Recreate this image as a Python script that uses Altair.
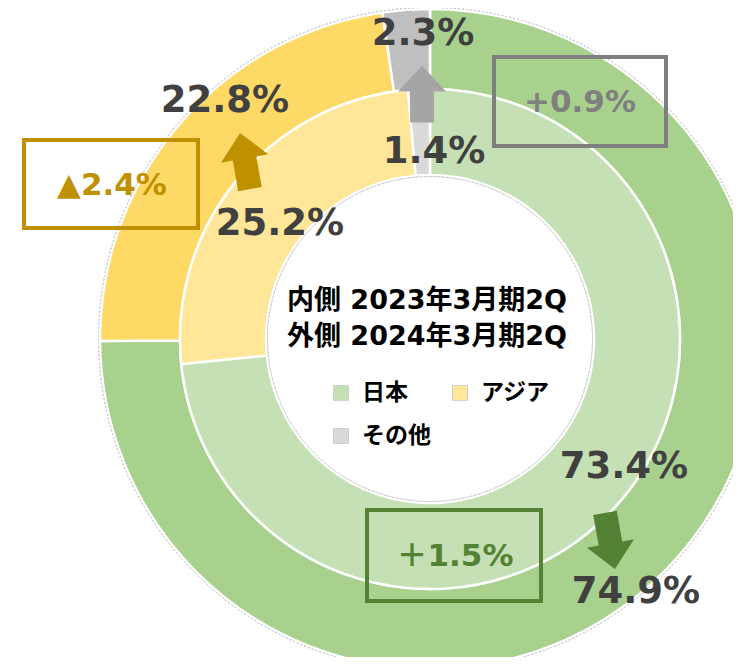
import math
import altair as alt
import pandas as pd

# ---------------- data ----------------
categories = ["日本", "アジア", "その他"]
inner_values = [73.4, 25.2, 1.4]   # 内側 2023年3月期2Q
outer_values = [74.9, 22.8, 2.3]   # 外側 2024年3月期2Q
change_labels = ["＋1.5%", "▲2.4%", "+0.9%"]
center_lines = ["内側 2023年3月期2Q", "外側 2024年3月期2Q"]

# ---------------- styles ----------------
outer_colors = ["#a9d18e", "#ffd966", "#bfbfbf"]
inner_colors = ["#c5e0b4", "#ffe699", "#d9d9d9"]
box_colors = ["#548235", "#bf9000", "#7f7f7f"]
arrow_colors = ["#548235", "#bf9000", "#a5a5a5"]
LABEL_COLOR = "#404040"
NUM_FONT = "DejaVu Sans"
JP_FONT = "DejaVu Sans, Noto Sans CJK JP"

# ---------------- layout (page pixel coordinates) ----------------
CX, CY = 430, 339
outer_label_pos = [(636, 592), (225, 101), (423, 34)]
inner_label_pos = [(624, 467), (280, 224), (434, 152)]
box_pos = [(367, 510, 541, 601), (24, 140, 198, 228), (494, 57, 666, 146)]
change_text_pos = [(455, 557), (112, 186), (580, 103)]
arrow_pos = [(610, 541, 170), (245, 161, 350), (422, 94, 0)]
legend_pos = [(341, 393), (460, 393), (341, 436)]
center_text_pos = [(427, 301), (427, 337)]

W, H = 725, 649
XS = alt.Scale(domain=[8, 8 + W], nice=False, zero=False)
YS = alt.Scale(domain=[8, 8 + H], nice=False, zero=False, reverse=True)


def xpos(field):
    return alt.X(field, type="quantitative", scale=XS, axis=None)


def ypos(field):
    return alt.Y(field, type="quantitative", scale=YS, axis=None)


center_x = alt.X(datum=CX, type="quantitative", scale=XS, axis=None)
center_y = alt.Y(datum=CY, type="quantitative", scale=YS, axis=None)

# ---------------- rings ----------------
outer_df = pd.DataFrame({"category": categories, "value": outer_values,
                         "order": list(range(3)), "fill": outer_colors})
inner_df = pd.DataFrame({"category": categories, "value": inner_values,
                         "order": list(range(3)), "fill": inner_colors})

theta = alt.Theta("value:Q", stack=True, scale=alt.Scale(domain=[0, 100]))

outer_ring = alt.Chart(outer_df).mark_arc(
    outerRadius=330, innerRadius=250, stroke="white", strokeWidth=2.5
).encode(theta=theta, order=alt.Order("order:Q"),
         color=alt.Color("fill:N", scale=None), x=center_x, y=center_y)

inner_ring = alt.Chart(inner_df).mark_arc(
    outerRadius=250, innerRadius=164, stroke="white", strokeWidth=2.5
).encode(theta=theta, order=alt.Order("order:Q"),
         color=alt.Color("fill:N", scale=None), x=center_x, y=center_y)

one = pd.DataFrame({"k": [0]})
edge_outer = alt.Chart(one).mark_arc(
    outerRadius=331.5, innerRadius=331.5, theta=0, theta2=2 * math.pi,
    fillOpacity=0, stroke="#c8c8c8", strokeWidth=1, strokeDash=[2, 2]
).encode(x=center_x, y=center_y)
edge_inner = alt.Chart(one).mark_arc(
    outerRadius=162.5, innerRadius=162.5, theta=0, theta2=2 * math.pi,
    fillOpacity=0, stroke="#c8c8c8", strokeWidth=1, strokeDash=[2, 2]
).encode(x=center_x, y=center_y)

# ---------------- value labels ----------------
label_df = pd.DataFrame({
    "label": [f"{v}%" for v in outer_values] + [f"{v}%" for v in inner_values],
    "px": [p[0] for p in outer_label_pos] + [p[0] for p in inner_label_pos],
    "py": [p[1] for p in outer_label_pos] + [p[1] for p in inner_label_pos],
})
value_labels = alt.Chart(label_df).mark_text(
    font=NUM_FONT, fontWeight="bold", fontSize=37, color=LABEL_COLOR,
    align="center", baseline="middle"
).encode(x=xpos("px"), y=ypos("py"), text="label:N")

# ---------------- change boxes ----------------
box_df = pd.DataFrame({
    "x1": [b[0] for b in box_pos], "y1": [b[1] for b in box_pos],
    "x2": [b[2] for b in box_pos], "y2": [b[3] for b in box_pos],
    "color": box_colors,
    "label": change_labels,
    "tx": [p[0] for p in change_text_pos], "ty": [p[1] for p in change_text_pos],
})
boxes = alt.Chart(box_df).mark_rect(fillOpacity=0, strokeWidth=4).encode(
    x=xpos("x1"), x2="x2", y=ypos("y1"), y2="y2",
    stroke=alt.Stroke("color:N", scale=None))
box_text = alt.Chart(box_df).mark_text(
    font=JP_FONT, fontWeight="bold", fontSize=31, align="center", baseline="middle"
).encode(x=xpos("tx"), y=ypos("ty"), text="label:N",
         color=alt.Color("color:N", scale=None))

# ---------------- arrows ----------------
ARROW = "M-0.42,1L0.42,1L0.42,-0.09L0.84,-0.09L0,-1L-0.84,-0.09L-0.42,-0.09Z"
arrow_df = pd.DataFrame({
    "ax": [a[0] for a in arrow_pos], "ay": [a[1] for a in arrow_pos],
    "angle": [a[2] for a in arrow_pos], "color": arrow_colors,
})
arrows = alt.Chart(arrow_df).mark_point(
    shape=ARROW, size=57 * 57, filled=True, opacity=1, strokeWidth=0
).encode(x=xpos("ax"), y=ypos("ay"),
         angle=alt.Angle("angle:Q", scale=None),
         color=alt.Color("color:N", scale=None))

# ---------------- center text ----------------
center_df = pd.DataFrame({
    "line": center_lines,
    "px": [p[0] for p in center_text_pos], "py": [p[1] for p in center_text_pos],
})
center_text = alt.Chart(center_df).mark_text(
    font=JP_FONT, fontWeight="bold", fontSize=27, color="#000000",
    align="center", baseline="middle"
).encode(x=xpos("px"), y=ypos("py"), text="line:N")

# ---------------- legend ----------------
legend_df = pd.DataFrame({
    "category": categories, "fill": inner_colors,
    "px": [p[0] for p in legend_pos], "py": [p[1] for p in legend_pos],
})
legend_sq = alt.Chart(legend_df).mark_square(
    size=225, filled=True, opacity=1, stroke="#d0d0d0", strokeWidth=1
).encode(x=xpos("px"), y=ypos("py"), color=alt.Color("fill:N", scale=None))
legend_txt = alt.Chart(legend_df).transform_calculate(
    tx="datum.px + 21"
).mark_text(
    font="Noto Sans CJK JP", fontWeight="bold", fontSize=23, color="#000000",
    align="left", baseline="middle"
).encode(x=xpos("tx"), y=ypos("py"), text="category:N")

chart = alt.layer(
    outer_ring, inner_ring, edge_outer, edge_inner,
    boxes, arrows, value_labels, box_text,
    center_text, legend_sq, legend_txt
).properties(
    width=W, height=H, padding=0, autosize=alt.AutoSizeParams(type="none")
).configure_view(stroke=None)

chart.save("out.html", embed_options={"renderer": "svg", "actions": False})
